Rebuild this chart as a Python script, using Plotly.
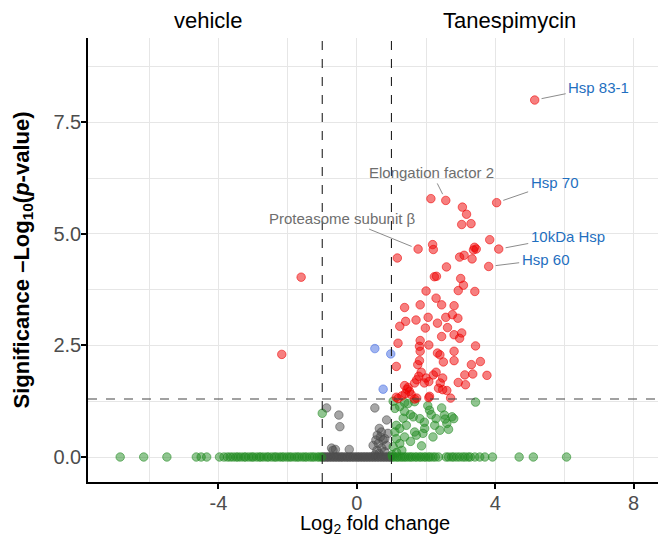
import plotly.graph_objects as go

# ---------------- data ----------------
# significant p-value AND |log2FC| > 1  (red)
red_x = [5.14, 2.14, 2.57, 3.05, 3.17, 3.03, 3.30, 4.04,
         1.77, 2.19, 2.21, 1.17, 3.84, 4.10, 3.40, 3.45, 3.37, 2.97, 3.10, 3.33, 3.81,
         2.59, 2.24, 2.30, 3.00, 3.08,
         2.00, 2.93, 3.41, 2.29, 1.38, 1.83, 2.45, 2.81,
         1.41, 1.24, 1.71, 2.06, 2.33, 2.57, 2.76, 2.92,
         2.62, 1.98, 2.45, 2.81, 3.03, 2.97, 1.19,
         1.83, 1.81, 1.83, 2.08, 2.33, 2.40, 3.43, 2.81,
         2.50, 2.81, 1.81, 1.76, 1.86, 1.14, 3.31, 3.57,
         2.29, 2.21, 2.08, 1.95, 2.00, 1.73, 1.79, 1.67,
         3.12, 3.35, 3.76, 2.48, 2.41, 2.36, 2.48, 2.60,
         2.93, 3.14, 1.38, 1.45, 1.52, 1.57, 1.40, 1.30,
         1.14, 1.19, 1.48, 2.10, 2.08, 2.71, 1.73, 1.67,
         -1.61, -2.17]
red_y = [8.00, 5.79, 5.75, 5.60, 5.44, 5.21, 5.23, 5.70,
         4.66, 4.76, 4.65, 4.46, 4.87, 4.66, 4.70, 4.66, 4.64, 4.48, 4.52, 4.44, 4.27,
         4.26, 4.04, 4.05, 4.00, 3.85,
         3.72, 3.73, 3.71, 3.56, 3.35, 3.41, 3.41, 3.39,
         3.04, 2.93, 3.07, 3.13, 3.00, 3.13, 3.19, 3.11,
         2.90, 2.89, 2.70, 2.74, 2.78, 2.66, 2.55,
         2.61, 2.48, 2.37, 2.51, 2.33, 2.29, 2.49, 2.37,
         2.13, 2.16, 2.16, 2.07, 1.90, 2.03, 2.07, 2.14,
         1.90, 1.84, 1.69, 1.66, 1.77, 1.73, 1.81, 1.66,
         1.84, 1.86, 1.83, 1.77, 1.66, 1.54, 1.51, 1.49,
         1.67, 1.62, 1.60, 1.52, 1.47, 1.40, 1.42, 1.37,
         1.34, 1.31, 1.56, 1.36, 1.33, 1.32, 1.32, 1.30,
         4.03, 2.30]

# significant p-value only (blue)
blue_x = [0.52, 0.98, 0.76]
blue_y = [2.43, 2.31, 1.52]

# |log2FC| > 1 only (green)
green_x = [-1.00,
           1.10, 1.24, 1.38, 1.48, 1.67, 1.05, 1.38,
           1.34, 1.63, 1.82, 2.10, 2.29, 2.53, 2.75, 3.43,
           1.14, 1.10, 1.24, 1.43, 1.67, 1.72, 1.96, 1.91, 2.25, 2.40, 2.60, 2.80,
           1.14, 1.24, 1.38, 1.87, 1.05, 2.05, 2.45, 2.15, 1.55, 1.95, 2.65, 1.30,
           1.55, 1.15, 2.20, 2.55, 1.02,
           # zero-significance row
           -6.84, -6.16, -5.49, -4.64, -4.50, -4.34, -3.97, -3.84, -3.74, -3.66, -3.58,
           -3.49, -3.43, -3.35, -3.26, -3.21, -3.12, -3.04, -2.99, -2.90, -2.82, -2.77,
           -2.69, -2.60, -2.55, -2.46, -2.38, -2.33, -2.24, -2.17, -2.11, -2.02, -1.95,
           -1.89, -1.80, -1.73, -1.67, -1.58, -1.51, -1.45, -1.36, -1.29, -1.23, -1.14,
           -1.08, -1.02,
           1.03, 1.08, 1.15, 1.19, 1.26, 1.31, 1.37, 1.42, 1.49, 1.55, 1.60, 1.68, 1.73,
           1.81, 1.86, 1.94, 1.99, 2.07, 2.12, 2.20, 2.27, 2.36, 2.58, 2.65, 2.74, 2.80,
           2.89, 2.97, 3.06, 3.13, 3.22, 3.28, 3.41, 3.55, 3.70, 3.92, 4.69, 5.10, 6.06]
green_y = [0.98,
           1.09, 1.13, 1.02, 1.20, 1.24, 1.25, 1.22,
           0.87, 0.90, 0.86, 1.05, 0.86, 0.94, 0.90, 1.23,
           0.71, 0.56, 0.64, 0.71, 0.56, 0.49, 0.64, 0.53, 0.71, 0.60, 0.75, 0.86,
           0.41, 0.30, 0.45, 0.25, 0.23, 1.15, 1.10, 0.95, 0.95, 0.78, 0.62, 0.15,
           0.35, 0.10, 0.45, 0.85, 0.05,
           0, 0, 0, 0, 0, 0, 0, 0, 0, 0, 0,
           0, 0, 0, 0, 0, 0, 0, 0, 0, 0, 0,
           0, 0, 0, 0, 0, 0, 0, 0, 0, 0, 0,
           0, 0, 0, 0, 0, 0, 0, 0, 0, 0, 0,
           0, 0,
           0, 0, 0, 0, 0, 0, 0, 0, 0, 0, 0, 0, 0,
           0, 0, 0, 0, 0, 0, 0, 0, 0, 0, 0, 0, 0,
           0, 0, 0, 0, 0, 0, 0, 0, 0, 0, 0, 0, 0]

# not significant (grey)
grey_x = [-0.875, -0.52, -0.49, 0.52, 0.86,
          0.65, 0.71, 0.59, 0.68, 0.55, 0.76, 0.62, 0.47, 0.86, 0.81, 0.90, 0.72,
          0.58, 0.80, -0.73, -0.62, -0.22, -0.69, 0.64, 0.52,
          -0.98, -0.94, -0.89, -0.85, -0.81, -0.76, -0.72, -0.67, -0.63, -0.58, -0.54,
          -0.49, -0.45, -0.41, -0.36, -0.31, -0.27, -0.22, -0.18, -0.13, -0.09, -0.04,
          0.01, 0.05, 0.09, 0.14, 0.18, 0.23, 0.27, 0.32, 0.36, 0.41, 0.45, 0.50,
          0.54, 0.59, 0.63, 0.68, 0.72, 0.77, 0.81, 0.86, 0.90, 0.95, 0.98]
grey_y = [1.10, 0.94, 0.68, 1.10, 0.83,
          0.64, 0.56, 0.49, 0.45, 0.38, 0.38, 0.30, 0.26, 0.26, 0.41, 0.53, 0.20,
          0.15, 0.12, 0.20, 0.17, 0.17, 0.15, 0.08, 0.05,
          0, 0, 0, 0, 0, 0, 0, 0, 0, 0, 0,
          0, 0, 0, 0, 0, 0, 0, 0, 0, 0, 0,
          0, 0, 0, 0, 0, 0, 0, 0, 0, 0, 0, 0,
          0, 0, 0, 0, 0, 0, 0, 0, 0, 0, 0]

# labelled proteins
label_names = ["Hsp 83-1", "Elongation factor 2", "Hsp 70", "Proteasome subunit β", "10kDa Hsp", "Hsp 60"]
label_x = [5.14, 2.57, 4.04, 1.77, 4.10, 3.81]
label_y = [8.00, 5.75, 5.70, 4.66, 4.66, 4.27]
label_colors = ["#1F6FC0", "#6E6E6E", "#1F6FC0", "#6E6E6E", "#1F6FC0", "#1F6FC0"]
label_ax = [64, -14, 58, -76, 69, 57]
label_ay = [-13, -28, -20, -31, -13, -7]

# axis ticks
x_tickvals = [-4, 0, 4, 8]
x_ticktext = ["-4", "0", "4", "8"]
y_tickvals = [0, 2.5, 5, 7.5]
y_ticktext = ["0.0", "2.5", "5.0", "7.5"]

fc_cut = 1.0
p_cut = 1.30103
group_titles = ["vehicle", "Tanespimycin"]

# ---------------- figure ----------------
FONT = "Liberation Sans, Arial, sans-serif"
fig = go.Figure()


def add_group(xs, ys, rgb):
    fig.add_trace(go.Scatter(
        x=xs, y=ys, mode="markers", showlegend=False, hoverinfo="skip",
        marker=dict(size=8.5, color=f"rgba({rgb},0.5)",
                    line=dict(color=f"rgba({rgb},0.55)", width=1)),
    ))


add_group(grey_x, grey_y, "77,77,77")
add_group(green_x, green_y, "34,139,34")
add_group(blue_x, blue_y, "65,105,225")
add_group(red_x, red_y, "238,0,0")

# threshold lines
for xv in (-fc_cut, fc_cut):
    fig.add_shape(type="line", xref="x", yref="paper", x0=xv, x1=xv, y0=0, y1=1,
                  line=dict(color="#222222", width=1.1, dash="dash"))
fig.add_shape(type="line", xref="paper", yref="y", x0=0, x1=1, y0=p_cut, y1=p_cut,
              line=dict(color="#444444", width=1.1, dash="dash"))

# labels with leader segments
for n, x, y, c, ax, ay in zip(label_names, label_x, label_y, label_colors, label_ax, label_ay):
    fig.add_annotation(x=x, y=y, xref="x", yref="y", text=n, showarrow=True,
                       ax=ax, ay=ay, axref="pixel", ayref="pixel",
                       arrowhead=0, arrowwidth=1, arrowcolor="#8C8C8C",
                       standoff=7, borderpad=2,
                       font=dict(family=FONT, size=15, color=c))

# group titles
for t, xv in zip(group_titles, (-4.3, 4.4)):
    fig.add_annotation(x=xv, y=1.04, xref="x", yref="paper", text=t, showarrow=False,
                       xanchor="center", yanchor="middle",
                       font=dict(family=FONT, size=22, color="black"))

# x-axis title
fig.add_annotation(x=0.5, y=-0.095, xref="paper", yref="paper",
                   text="Log<sub>2</sub> fold change", showarrow=False,
                   xanchor="center", yanchor="middle",
                   font=dict(family=FONT, size=20, color="black"))

grid = "#E6E6E6"
# the page body adds an 8px offset, so the figure is sized 8px smaller
fig.update_layout(
    width=658, height=538,
    margin=dict(l=80, r=5, t=30, b=64),
    plot_bgcolor="white", paper_bgcolor="white",
    font=dict(family=FONT),
    xaxis=dict(
        range=[-7.77, 8.79], tickvals=x_tickvals, ticktext=x_ticktext,
        showline=True, linecolor="black", linewidth=1.5,
        ticks="outside", ticklen=5, tickwidth=1.5, tickcolor="black", automargin=False,
        showgrid=True, gridcolor=grid, gridwidth=1.4, zeroline=False,
        minor=dict(dtick=2, showgrid=True, gridcolor=grid, gridwidth=0.7),
        tickfont=dict(family=FONT, size=20, color="#4D4D4D"),
        ticklabelstandoff=-3,
    ),
    yaxis=dict(
        range=[-0.56, 9.39], tickvals=y_tickvals, ticktext=y_ticktext, showline=True,
        linecolor="black", linewidth=1.5, automargin=False,
        ticks="outside", ticklen=5, tickwidth=1.5, tickcolor="black",
        showgrid=True, gridcolor=grid, gridwidth=1.4, zeroline=False,
        minor=dict(dtick=1.25, showgrid=True, gridcolor=grid, gridwidth=0.7),
        tickfont=dict(family=FONT, size=20, color="#4D4D4D"),
        ticklabelstandoff=-4,
        title=dict(text="<b>Significance –Log<sub>10</sub>(<i>p</i>-value)</b>", standoff=18,
                   font=dict(family=FONT, size=22, color="black")),
    ),
)

fig.write_html("out.html")
